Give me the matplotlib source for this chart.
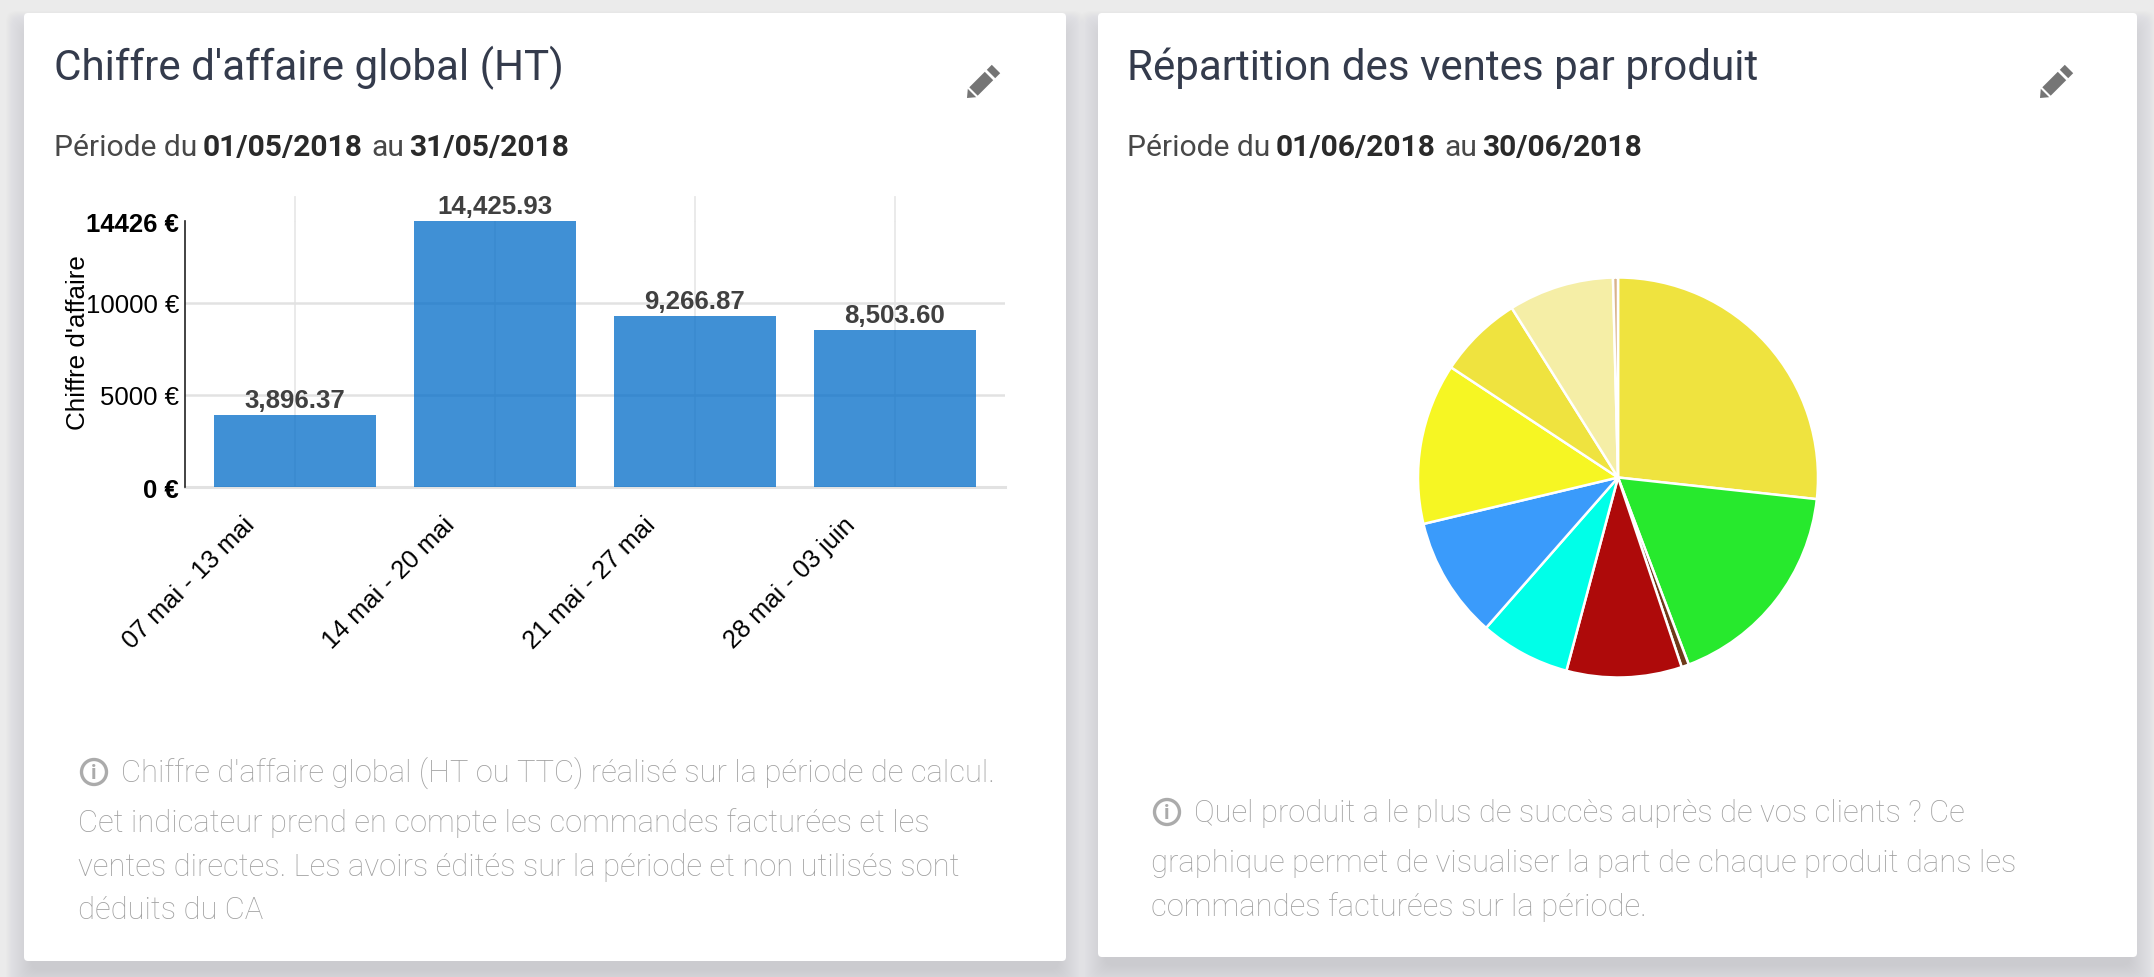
import matplotlib
matplotlib.use('Agg')
import matplotlib.pyplot as plt
from matplotlib.patches import FancyBboxPatch, Circle, Polygon
from matplotlib.transforms import ScaledTranslation

W, H = 2154, 978
bar_periods = ['07 mai - 13 mai', '14 mai - 20 mai', '21 mai - 27 mai', '28 mai - 03 juin']
bar_values = [3896.37, 14425.93, 9266.87, 8503.60]
bar_labels = ['3,896.37', '14,425.93', '9,266.87', '8,503.60']
y_ticks = [0, 5000, 10000, 14426]
y_tick_labels = ['0 €', '5000 €', '10000 €', '14426 €']
pie_values = [26.7, 17.5, 0.6, 9.3, 7.3, 9.8, 13.0, 6.8, 8.5, 0.4]
pie_colors = ['#EFE33F', '#27E92D', '#6E3A1A', '#AE0A0A', '#00FFE8', '#3A9BFB',
              '#F6F623', '#EFE33F', '#F5EEA6', '#D9B38C']

BODY = 'Roboto'
fig = plt.figure(figsize=(W / 100, H / 100), dpi=100, facecolor='#EBEBEB')
bg = fig.add_axes([0, 0, 1, 1])
bg.set_xlim(0, W); bg.set_ylim(H, 0); bg.axis('off')

def card(x0, y0, x1, y1):
    for i in range(26, 0, -1):
        s = i - 8
        bg.add_patch(FancyBboxPatch((x0 - s, y0 + 16 - s), x1 - x0 + 2 * s, y1 - y0 + 2 * s,
                                    boxstyle='round,pad=0,rounding_size=10', fc='#8A8A92', ec='none', alpha=0.011, zorder=1))
    bg.add_patch(FancyBboxPatch((x0, y0), x1 - x0, y1 - y0, boxstyle='round,pad=0,rounding_size=4',
                                fc='white', ec='none', zorder=2))

def pieces(y, parts, size):
    for x, s, w, c in parts:
        bg.text(x, y, s, fontsize=size, color=c, family=BODY, fontweight=w, va='baseline', ha='left', zorder=5)

def segment(cx, cy, a, b, half=4.2):
    # a rectangle along the up-right diagonal of the pencil icon
    return [(cx + a - half, cy - a - half), (cx + b - half, cy - b - half),
            (cx + b + half, cy - b + half), (cx + a + half, cy - a + half)]

def pencil(cx, cy):
    c = '#757575'
    bg.add_patch(Polygon([(cx - 15, cy + 15), (cx - 14.2, cy + 5.8), (cx - 5.8, cy + 14.2)], fc=c, ec='none', zorder=5))
    bg.add_patch(Polygon(segment(cx, cy, -8.5, 7), fc=c, ec='none', zorder=5))
    bg.add_patch(Polygon(segment(cx, cy, 9, 14), fc=c, ec='none', zorder=5))

def info(cx, cy):
    bg.add_patch(Circle((cx, cy), 12.5, fc='none', ec='#ABABAB', lw=2.4, zorder=5))
    bg.text(cx, cy + 0.5, 'i', fontsize=15, color='#ABABAB', family=BODY, fontweight='bold', ha='center', va='center', zorder=5)

card(24, 14, 1066, 962)
card(1098, 14, 2137, 958)

for x, ttl in [(54, "Chiffre d'affaire global (HT)"), (1127, 'Répartition des ventes par produit')]:
    bg.text(x, 80, ttl, fontsize=30.3, color='#343B4C', family=BODY, zorder=5)
D = '#2A2A2A'
L = '#484848'
pieces(156, [(54, 'Période du', 'normal', L), (203, '01/05/2018', 'bold', D),
             (371, 'au', 'normal', L), (409, '31/05/2018', 'bold', D)], 21.6)
pieces(156, [(1127, 'Période du', 'normal', L), (1276, '01/06/2018', 'bold', D),
             (1444, 'au', 'normal', L), (1482, '30/06/2018', 'bold', D)], 21.6)
pencil(982, 84); pencil(2055, 84)

info(94, 773); info(1167, 813)
GREY = '#A0A0A0'
for x, y, s in [(121, 782, "Chiffre d'affaire global (HT ou TTC) réalisé sur la période de calcul."),
                (78, 832, "Cet indicateur prend en compte les commandes facturées et les"),
                (78, 876, "ventes directes. Les avoirs édités sur la période et non utilisés sont"),
                (78, 919, "déduits du CA"),
                (1194, 822, "Quel produit a le plus de succès auprès de vos clients ? Ce"),
                (1151, 872, "graphique permet de visualiser la part de chaque produit dans les"),
                (1151, 916, "commandes facturées sur la période.")]:
    bg.text(x, y, s, fontsize=22.3, color=GREY, family=BODY, fontweight='light', zorder=5)

# bar chart
left, right, top0, base = 184.5, 1005, 222, 488
ax = fig.add_axes([left / W, 1 - base / H, (right - left) / W, (base - top0) / H], facecolor='none', zorder=3)
xs = list(range(len(bar_values)))
ax.bar(xs, bar_values, width=0.81, color=(0.0, 0.42, 0.785, 0.75), zorder=3)
ax.set_xlim(-0.55, 3.55)
ax.set_ylim(0, 14426)
for s in ['top', 'right', 'bottom']:
    ax.spines[s].set_visible(False)
ax.spines['left'].set_color('#222222'); ax.spines['left'].set_linewidth(1.2)
ax.set_axisbelow(True)
ax.yaxis.grid(True, color='#E2E2E2', lw=1.8, zorder=1)
ax.xaxis.grid(True, color='#E8E8E8', lw=1.3, zorder=1)
ax.set_yticks(y_ticks)
ax.get_ygridlines()[-1].set_visible(False)
ax.set_yticklabels(y_tick_labels, family='Liberation Sans', fontsize=18.5, color='black')
for lab, v in zip(ax.get_yticklabels(), y_ticks):
    if v in (0, 14426):
        lab.set_fontweight('bold')
ax.tick_params(axis='y', length=0, pad=4)
ax.set_xticks(xs)
ax.set_xticklabels(bar_periods, rotation=45, ha='right', rotation_mode='anchor',
                   family='Liberation Sans', fontsize=18.3, color='black')
ax.tick_params(axis='x', length=0, pad=18)
shift = ScaledTranslation(-52 / 100, 0, fig.dpi_scale_trans)
for lab in ax.get_xticklabels():
    lab.set_transform(lab.get_transform() + shift)
ax.axhline(0, color='#E2E2E2', lw=2.2, zorder=2, clip_on=False)
for gx, v in zip(xs, bar_values):
    if v < max(bar_values):
        ax.plot([gx, gx], [14426, 15728], color='#E8E8E8', lw=1.3, clip_on=False, zorder=1)
for x, v, s in zip(xs, bar_values, bar_labels):
    ax.annotate(s, (x, v), xytext=(0, 2), textcoords='offset points', ha='center', va='bottom',
                family='Liberation Sans', fontweight='bold', fontsize=18.6, color='#404040', zorder=6)
bg.text(78, 343, "Chiffre d'affaire", rotation=90, ha='center', va='center', family='Liberation Sans',
        fontsize=18.7, color='black', zorder=5)

# pie chart
cx, cy, rad = 1618, 478.5, 200
pax = fig.add_axes([(cx - rad) / W, 1 - (cy + rad) / H, 2 * rad / W, 2 * rad / H], zorder=3)
pax.pie(pie_values, colors=pie_colors, startangle=90, counterclock=False, radius=1,
        wedgeprops=dict(edgecolor='white', linewidth=1.8))
pax.set_xlim(-1, 1); pax.set_ylim(-1, 1)

fig.savefig('out.png', dpi=100, facecolor=fig.get_facecolor())
